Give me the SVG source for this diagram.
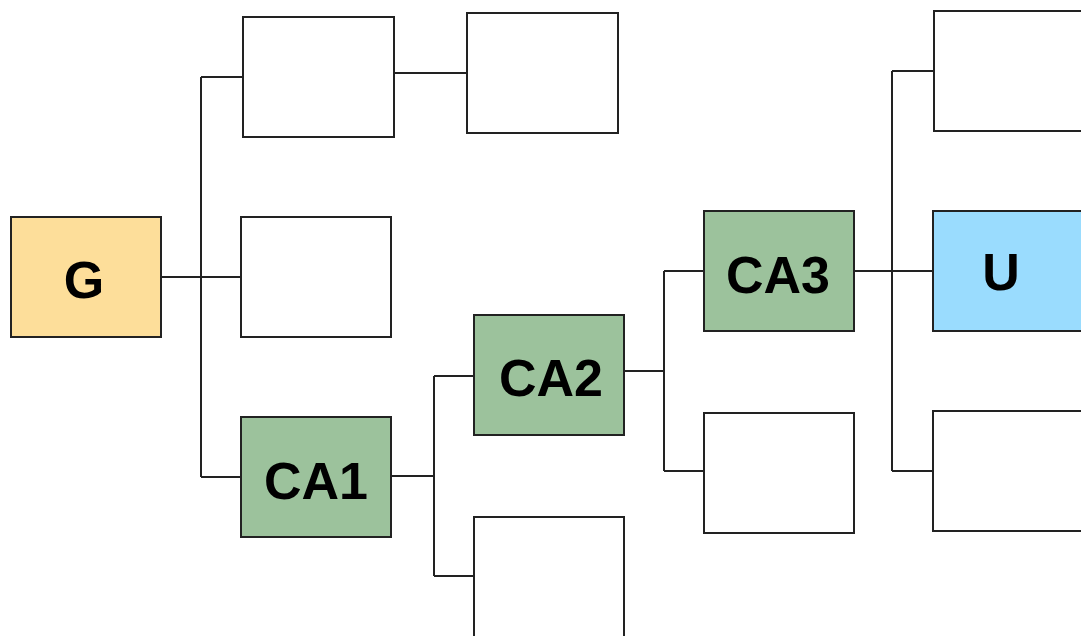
<svg xmlns="http://www.w3.org/2000/svg" width="1081" height="636" viewBox="0 0 1081 636">
<style>
.box{stroke:#222;stroke-width:2;fill:#fff}
.g{fill:#FDDE9A}
.ca{fill:#9CC29C}
.u{fill:#9ADCFE}
.lbl{font-family:"Liberation Sans",Arial,sans-serif;font-weight:bold;font-size:52px;fill:#000;text-anchor:middle}
.con{stroke:#222;stroke-width:2;fill:none}
</style>
<rect width="1081" height="636" fill="#fff"/>
<g id="connectors">
<path class="con" d="M161 277H241M201 77V477M201 77H243M201 477H241"/>
<path class="con" d="M394 73H467"/>
<path class="con" d="M391 476H434M434 376V576M434 376H474M434 576H474"/>
<path class="con" d="M624 371H664M664 271V471M664 271H704M664 471H704"/>
<path class="con" d="M854 271H933M892 71V471M892 71H934M892 471H933"/>
</g>
<g id="G"><rect class="box g" x="11" y="217" width="150" height="120"/><text class="lbl" x="84" y="298">G</text></g>
<g id="n1"><rect class="box" x="243" y="17" width="151" height="120"/></g>
<g id="n2"><rect class="box" x="467" y="13" width="151" height="120"/></g>
<g id="n3"><rect class="box" x="241" y="217" width="150" height="120"/></g>
<g id="CA1"><rect class="box ca" x="241" y="417" width="150" height="120"/><text class="lbl" x="316" y="499">CA1</text></g>
<g id="CA2"><rect class="box ca" x="474" y="315" width="150" height="120"/><text class="lbl" x="551" y="396">CA2</text></g>
<g id="n4"><rect class="box" x="474" y="517" width="150" height="130"/></g>
<g id="CA3"><rect class="box ca" x="704" y="211" width="150" height="120"/><text class="lbl" x="778" y="293">CA3</text></g>
<g id="n5"><rect class="box" x="704" y="413" width="150" height="120"/></g>
<g id="n6"><rect class="box" x="934" y="11" width="160" height="120"/></g>
<g id="U"><rect class="box u" x="933" y="211" width="160" height="120"/><text class="lbl" x="1001" y="290">U</text></g>
<g id="n7"><rect class="box" x="933" y="411" width="160" height="120"/></g>
</svg>
